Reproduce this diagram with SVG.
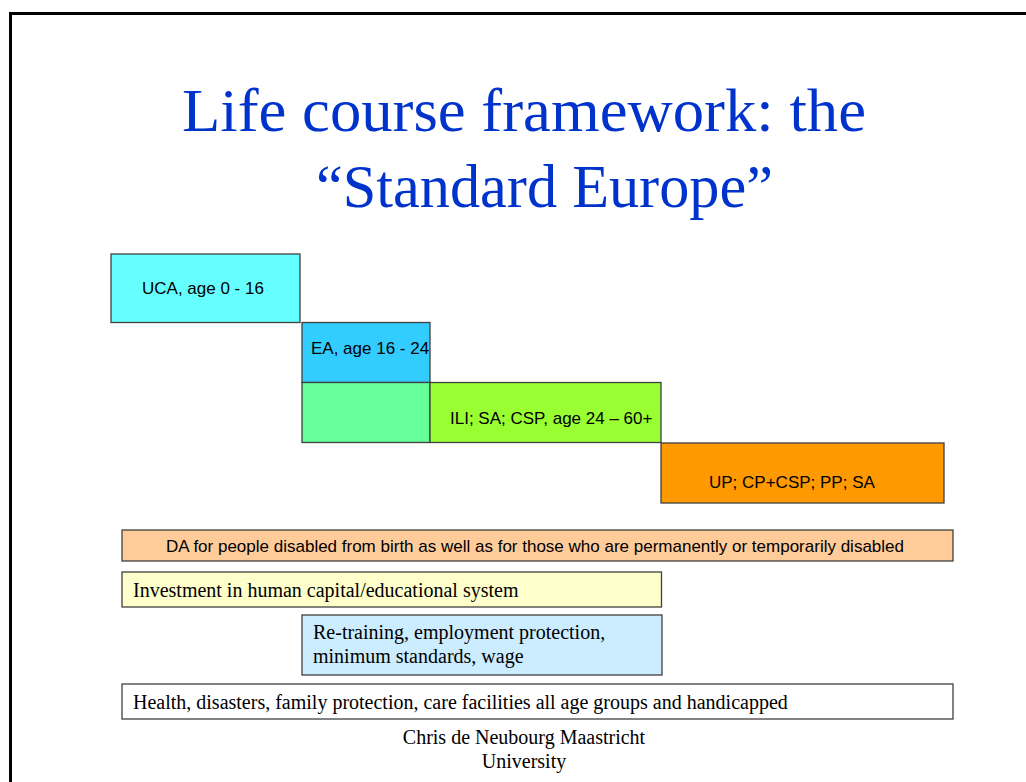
<svg xmlns="http://www.w3.org/2000/svg" width="1026" height="782" viewBox="0 0 1026 782">
<style>
.b{stroke:#404040;stroke-width:1.3}
.s{font-family:"Liberation Sans",Arial,sans-serif;font-size:17px;fill:#000}
.r{font-family:"Liberation Serif","Times New Roman",serif;font-size:20px;fill:#000}
.t{font-family:"Liberation Serif","Times New Roman",serif;font-size:61px;fill:#0033CC}
</style>
<rect width="1026" height="782" fill="#fff"/>
<path d="M10.5 782 V13.5 H1026" fill="none" stroke="#000" stroke-width="3"/>
<g id="title">
<text class="t" x="182" y="131" textLength="684" lengthAdjust="spacingAndGlyphs">Life course framework: the</text>
<text class="t" x="316" y="207" textLength="457" lengthAdjust="spacingAndGlyphs">“Standard Europe”</text>
</g>
<g id="connectors"></g>
<g id="uca"><rect class="b" x="111" y="254" width="189" height="68.5" fill="#66FFFF"/><text class="s" x="142" y="294">UCA, age 0 - 16</text></g>
<g id="ea"><rect class="b" x="302" y="322.5" width="128" height="60" fill="#33CCFF"/><text class="s" x="311" y="354">EA, age 16 - 24</text></g>
<g id="green"><rect class="b" x="302" y="382.5" width="128" height="60" fill="#66FF99"/></g>
<g id="ili"><rect class="b" x="430" y="382.5" width="231" height="60" fill="#99FF33"/><text class="s" x="450" y="424">ILI; SA; CSP, age 24 – 60+</text></g>
<g id="up"><rect class="b" x="661" y="443" width="283" height="60" fill="#FF9900"/><text class="s" x="709" y="488">UP; CP+CSP; PP; SA</text></g>
<g id="da"><rect class="b" x="122" y="530" width="831" height="31" fill="#FFCC99"/><text class="s" x="166" y="552">DA for people disabled from birth as well as for those who are permanently or temporarily disabled</text></g>
<g id="inv"><rect class="b" x="122" y="572" width="539.5" height="35" fill="#FFFFCC"/><text class="r" x="133" y="597">Investment in human capital/educational system</text></g>
<g id="retrain"><rect class="b" x="302" y="615" width="360" height="60" fill="#CCECFF"/><text class="r" x="313" y="639">Re-training, employment protection,</text><text class="r" x="313" y="663">minimum standards, wage</text></g>
<g id="health"><rect class="b" x="122" y="684" width="831" height="35" fill="#FFFFFF"/><text class="r" x="133" y="709">Health, disasters, family protection, care facilities all age groups and handicapped</text></g>
<g id="footer">
<text class="r" x="524" y="744" text-anchor="middle">Chris de Neubourg Maastricht</text>
<text class="r" x="524" y="768" text-anchor="middle">University</text>
</g>
</svg>
